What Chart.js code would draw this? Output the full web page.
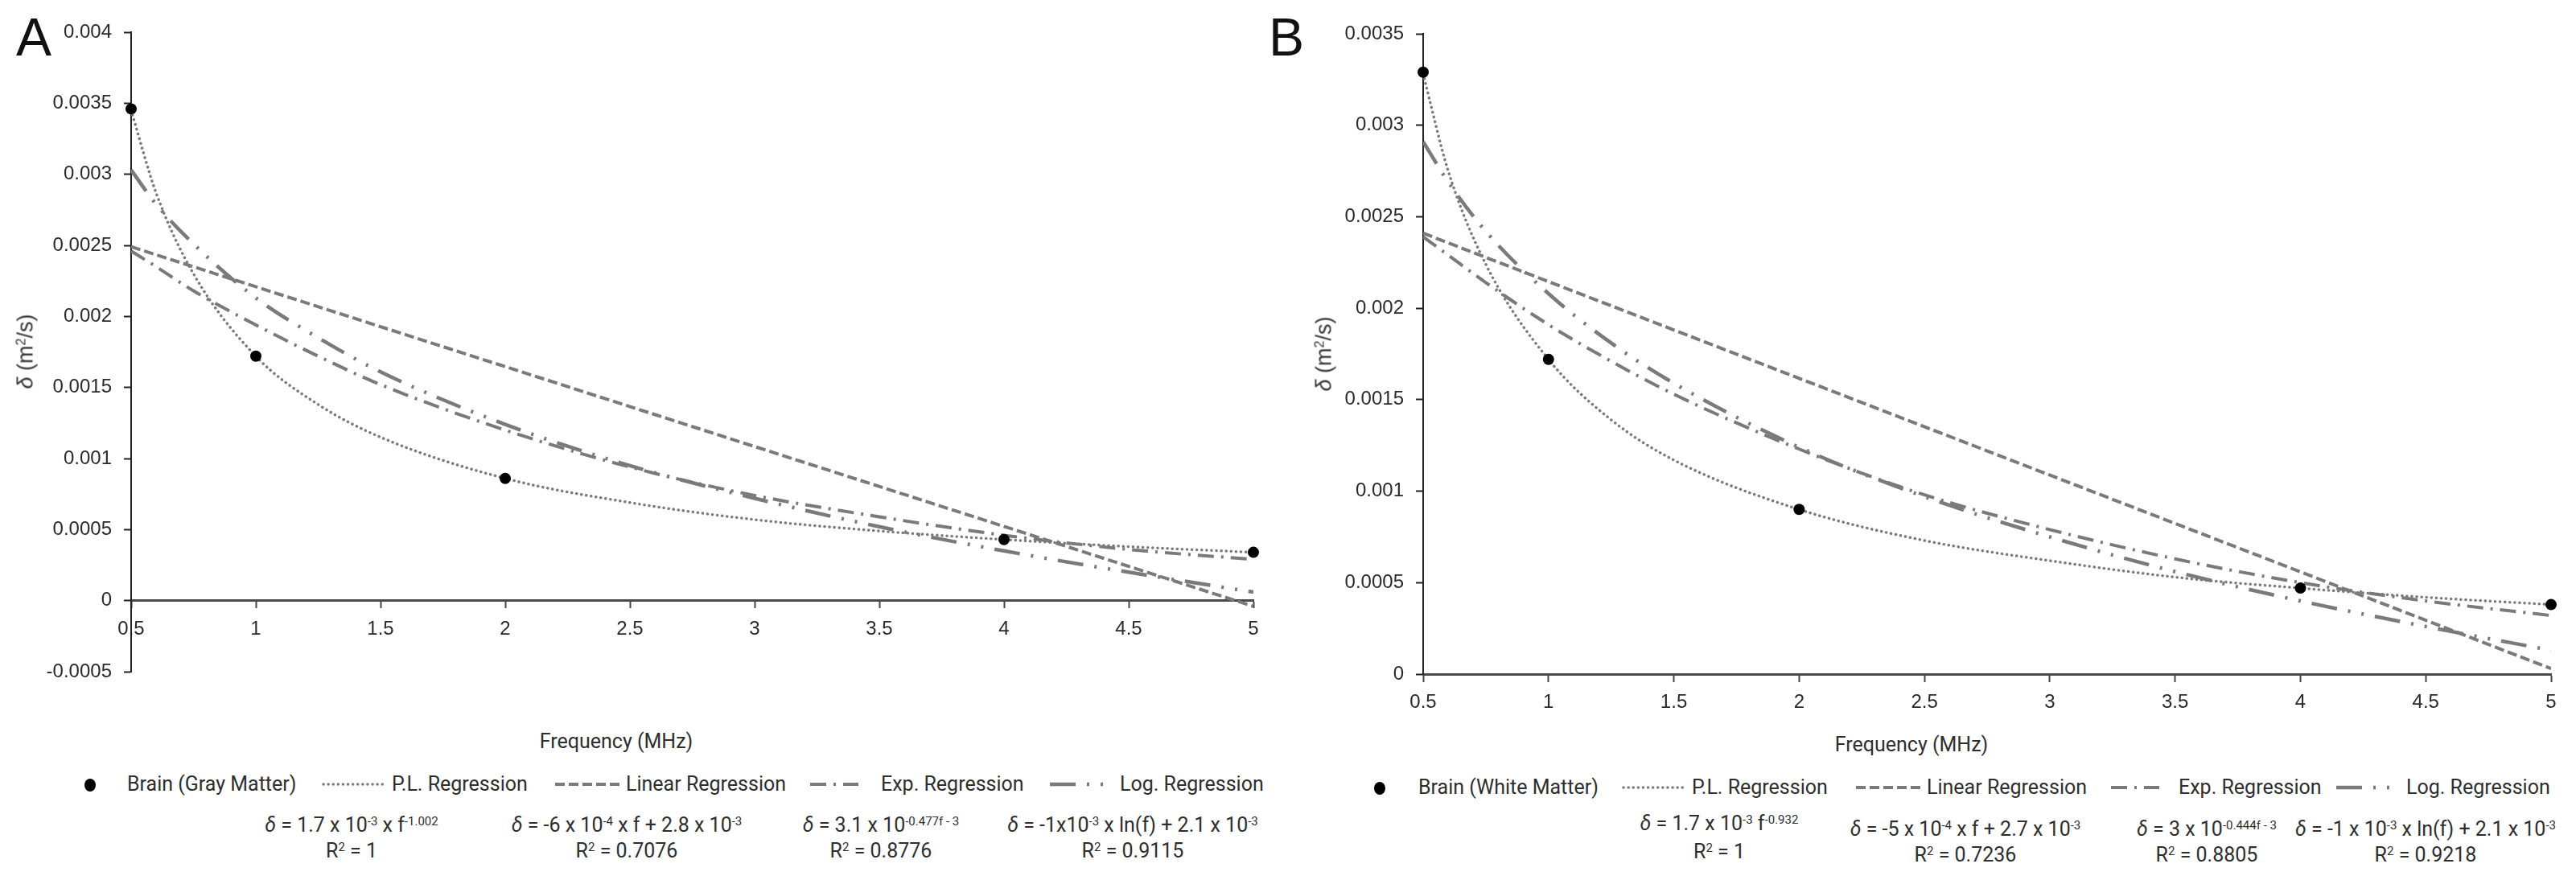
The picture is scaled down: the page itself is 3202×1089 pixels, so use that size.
<!DOCTYPE html>
<html>
<head>
<meta charset="utf-8">
<title>Penetration depth vs frequency</title>
<script src="https://cdn.jsdelivr.net/npm/chart.js@4.4.1/dist/chart.umd.min.js"></script>
<style>
  html, body { margin: 0; padding: 0; background: #fff; }
  #page { position: relative; width: 3202px; height: 1089px; overflow: hidden; background: #fff; }
  .panel { position: absolute; top: 0; height: 900px; }
  .txt { position: absolute; white-space: nowrap; line-height: 1; font-family: Roboto, "Noto Sans", sans-serif; font-size: 25px; color: #2e2e2e; }
  .txt sup { font-size: 0.6em; position: relative; top: -0.55em; vertical-align: baseline; line-height: 0; }
  .letter { font-family: "Liberation Sans", Arial, sans-serif; font-size: 66px; color: #111; }
  .ytitle { font-family: "Liberation Sans", Arial, sans-serif; font-size: 27px; color: #333; }
  .xtitle { font-size: 25px; }
  .dot { position: absolute; width: 14px; height: 16px; border-radius: 50%; background: #000; }
</style>
</head>
<body>
<div id="page">
  <div class="panel" style="left:0;width:1600px"><canvas id="chartA"></canvas></div>
  <div class="panel" style="left:1600px;width:1602px"><canvas id="chartB"></canvas></div>
</div>
<script>
// Frequencies (MHz) of the measured points
const freq = [0.5, 1, 2, 4, 5];
const grayMatter = [0.00346, 0.00172, 0.00086, 0.00043, 0.00034];
const whiteMatter = [0.00329, 0.00172, 0.00090, 0.00047, 0.00038];

// Trend lines
const fitFreq = [0.5, 0.6, 0.75, 1, 1.25, 1.5, 2, 2.5, 3, 3.5, 4, 4.5, 5];
const grayPL  = [0.00345, 0.00287, 0.00230, 0.00172, 0.00138, 0.00115, 0.00086, 0.00069, 0.00057, 0.00049, 0.00043, 0.00038, 0.00034];
const grayExp = [0.00246, 0.00235, 0.00218, 0.00194, 0.00172, 0.00152, 0.00120, 0.00094, 0.00074, 0.00059, 0.00046, 0.00036, 0.00029];
const grayLog = [0.00303, 0.00279, 0.00251, 0.00213, 0.00185, 0.00161, 0.00124, 0.00095, 0.00072, 0.00052, 0.00035, 0.00020, 0.00006];
const whitePL  = [0.00328, 0.00275, 0.00224, 0.00172, 0.00139, 0.00117, 0.00090, 0.00073, 0.00062, 0.00053, 0.00047, 0.00042, 0.00038];
const whiteExp = [0.00239, 0.00229, 0.00214, 0.00191, 0.00171, 0.00153, 0.00123, 0.00098, 0.00079, 0.00063, 0.00050, 0.00040, 0.00032];
const whiteLog = [0.00291, 0.00269, 0.00242, 0.00208, 0.00181, 0.00159, 0.00124, 0.00097, 0.00075, 0.00056, 0.00040, 0.00026, 0.00013];
const linFreq = [0.5, 5];
const grayLin = [0.00249, -0.00004];
const whiteLin = [0.00241, 0.00003];

// Legend labels and fitted equations
const fitLabels = ['P.L. Regression', 'Linear Regression', 'Exp. Regression', 'Log. Regression'];
const eqGray = [
  '<i>δ</i> = 1.7 x 10<sup>-3</sup> x f<sup>-1.002</sup>',
  '<i>δ</i> = -6 x 10<sup>-4</sup> x f + 2.8 x 10<sup>-3</sup>',
  '<i>δ</i> = 3.1 x 10<sup>-0.477f - 3</sup>',
  '<i>δ</i> = -1x10<sup>-3</sup> x ln(f) + 2.1 x 10<sup>-3</sup>'
];
const r2Gray = ['1', '0.7076', '0.8776', '0.9115'];
const eqWhite = [
  '<i>δ</i> = 1.7 x 10<sup>-3</sup> f<sup>-0.932</sup>',
  '<i>δ</i> = -5 x 10<sup>-4</sup> x f + 2.7 x 10<sup>-3</sup>',
  '<i>δ</i> = 3 x 10<sup>-0.444f - 3</sup>',
  '<i>δ</i> = -1 x 10<sup>-3</sup> x ln(f) + 2.1 x 10<sup>-3</sup>'
];
const r2White = ['1', '0.7236', '0.8805', '0.9218'];

const FIT_COLOR = '#7a7a7a';
const fitStyles = [
  { width: 3.5, dash: [0.1, 6],               cap: 'round' }, // P.L.
  { width: 4,   dash: [12, 5],                cap: 'butt' },  // linear
  { width: 4,   dash: [20, 9, 3, 9],          cap: 'butt' },  // exp
  { width: 4.5, dash: [32, 14, 3, 14, 3, 14], cap: 'butt' }   // log
];

const toXY = (xs, ys) => xs.map((x, i) => ({ x: x, y: ys[i] }));

function fitDataset(xs, ys, st) {
  return {
    data: toXY(xs, ys),
    showLine: true,
    pointRadius: 0,
    borderColor: FIT_COLOR,
    borderWidth: st.width,
    borderDash: st.dash,
    borderCapStyle: st.cap,
    cubicInterpolationMode: 'monotone',
    fill: false
  };
}

function buildChart(id, pts, fits, yMax, yMin, yAxisWidth, pad) {
  const datasets = [{
    data: toXY(freq, pts),
    pointRadius: 7,
    pointBackgroundColor: '#000',
    pointBorderWidth: 0,
    clip: false
  }];
  fits.forEach((f, i) => datasets.push(fitDataset(f[0], f[1], fitStyles[i])));

  return new Chart(document.getElementById(id), {
    type: 'scatter',
    data: { datasets: datasets },
    options: {
      responsive: true,
      maintainAspectRatio: false,
      animation: false,
      layout: { padding: pad },
      plugins: { legend: { display: false }, tooltip: { enabled: false } },
      scales: {
        x: {
          type: 'linear',
          position: { y: 0 },
          min: 0.5, max: 5,
          ticks: {
            stepSize: 0.5, maxRotation: 0, autoSkip: false, padding: 13,
            color: '#2a2a2a', font: { family: 'Liberation Sans', size: 24 },
            callback: v => String(v)
          },
          grid: { drawOnChartArea: false, drawTicks: true, tickLength: 8, tickWidth: 2, tickColor: '#444' },
          border: { color: '#4a4a4a', width: 3 },
          afterFit: s => { s.height = 0; }
        },
        y: {
          min: yMin, max: yMax,
          ticks: {
            stepSize: 0.0005, padding: 15,
            color: '#2a2a2a', font: { family: 'Liberation Sans', size: 24 },
            callback: v => String(+v.toFixed(4))
          },
          grid: { drawOnChartArea: false, drawTicks: true, tickLength: 9, tickWidth: 2, tickColor: '#222' },
          border: { color: '#222', width: 2 },
          afterFit: s => { s.width = yAxisWidth; }
        }
      }
    }
  });
}

buildChart('chartA', grayMatter,
  [[fitFreq, grayPL], [linFreq, grayLin], [fitFreq, grayExp], [fitFreq, grayLog]],
  0.004, -0.0005, 163, { top: 40, right: 42, bottom: 65, left: 0 });

buildChart('chartB', whiteMatter,
  [[fitFreq, whitePL], [linFreq, whiteLin], [fitFreq, whiteExp], [fitFreq, whiteLog]],
  0.0035, 0, 169, { top: 42, right: 31, bottom: 62, left: 0 });

// ---- text and legend (HTML) ----
const page = document.getElementById('page');

function addText(html, x, y, cls, align) {
  const d = document.createElement('div');
  d.className = 'txt' + (cls ? ' ' + cls : '');
  d.innerHTML = html;
  d.style.left = x + 'px';
  d.style.top = y + 'px';
  d.style.transform = align === 'left' ? 'translate(0,-50%)' : 'translate(-50%,-50%)';
  page.appendChild(d);
  return d;
}

function addSample(x1, x2, y, st) {
  const ns = 'http://www.w3.org/2000/svg';
  const svg = document.createElementNS(ns, 'svg');
  svg.setAttribute('width', x2 - x1 + 4);
  svg.setAttribute('height', 12);
  svg.style.position = 'absolute';
  svg.style.left = (x1 - 2) + 'px';
  svg.style.top = (y - 6) + 'px';
  const ln = document.createElementNS(ns, 'line');
  ln.setAttribute('x1', 2); ln.setAttribute('x2', x2 - x1 + 2);
  ln.setAttribute('y1', 6); ln.setAttribute('y2', 6);
  ln.setAttribute('stroke', FIT_COLOR);
  ln.setAttribute('stroke-width', st.width);
  ln.setAttribute('stroke-dasharray', st.dash.join(' '));
  ln.setAttribute('stroke-linecap', st.cap);
  svg.appendChild(ln);
  page.appendChild(svg);
}

function addDot(x, y) {
  const d = document.createElement('div');
  d.className = 'dot';
  d.style.left = (x - 7) + 'px';
  d.style.top = (y - 8) + 'px';
  page.appendChild(d);
}

function buildPanelText(p) {
  addText(p.letter, p.letterX, 46, 'letter');
  const yt = addText('<i>δ</i> (m<sup>2</sup>/s)', p.yTitleX, p.yTitleY, 'ytitle');
  yt.style.transform = 'translate(-50%,-50%) rotate(-90deg)';
  addText('Frequency (MHz)', p.xTitleX, p.xTitleY, 'xtitle');

  addDot(p.dotX, p.legendY + 2);
  addText(p.seriesName, p.nameX, p.legendY, '', 'left');
  fitLabels.forEach((lab, i) => {
    addSample(p.sample[i][0], p.sample[i][1], p.legendY + 1, fitStyles[i]);
    addText(lab, p.labelX[i], p.legendY, '', 'left');
    addText(p.eq[i], p.eqX[i], p.eqY[i], '');
    addText('R<sup>2</sup> = ' + p.r2[i], p.eqX[i], p.r2Y[i], '');
  });
}

buildPanelText({
  letter: 'A', letterX: 42,
  yTitleX: 32, yTitleY: 437,
  xTitleX: 766, xTitleY: 921,
  legendY: 974, dotX: 112,
  seriesName: 'Brain (Gray Matter)', nameX: 158,
  sample: [[402, 477], [690, 772], [1007, 1067], [1305, 1375]],
  labelX: [487, 778, 1095, 1392],
  eq: eqGray, r2: r2Gray,
  eqX: [437, 779, 1095, 1408],
  eqY: [1025, 1025, 1025, 1025],
  r2Y: [1057, 1057, 1057, 1057]
});

buildPanelText({
  letter: 'B', letterX: 1599,
  yTitleX: 1646, yTitleY: 440,
  xTitleX: 2376, xTitleY: 925,
  legendY: 978, dotX: 1715,
  seriesName: 'Brain (White Matter)', nameX: 1763,
  sample: [[2018, 2094], [2307, 2389], [2624, 2684], [2904, 2974]],
  labelX: [2103, 2395, 2708, 2991],
  eq: eqWhite, r2: r2White,
  eqX: [2137, 2443, 2743, 3015],
  eqY: [1023, 1030, 1030, 1030],
  r2Y: [1058, 1062, 1062, 1062]
});
</script>
</body>
</html>
